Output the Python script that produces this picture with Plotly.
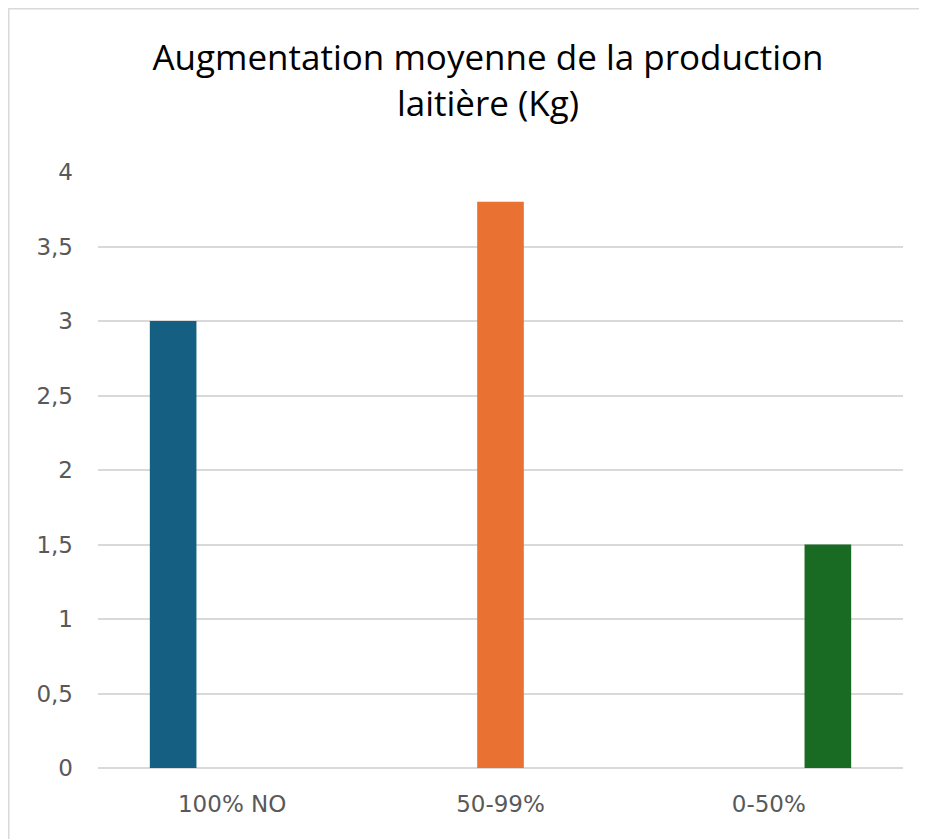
import plotly.graph_objects as go

categories = ["100% NO", "50-99%", "0-50%"]
values = [3.0, 3.8, 1.5]
colors = ["#156082", "#E97132", "#196B24"]
title_text = "Augmentation moyenne de la production<br>laitière (Kg)"
y_ticks = [0, 0.5, 1, 1.5, 2, 2.5, 3, 3.5, 4]

# page has an 8px body margin, so figure is slightly smaller and shifted
W, H = 919, 831
ML, MR, MT, MB = 90, 24, 164, 71
PW, PH = W - ML - MR, H - MT - MB

fig = go.Figure()
for i, cat in enumerate(categories):
    yv = [values[i] if j == i else None for j in range(len(categories))]
    fig.add_trace(go.Bar(x=categories, y=yv, name=cat, marker_color=colors[i],
                         marker_line_width=0, showlegend=False))

def px2x(px):
    return (px - ML) / PW

def px2y(py):
    return (H - MB - py) / PH

fig.update_layout(
    width=W, height=H,
    margin=dict(l=ML, r=MR, t=MT, b=MB),
    paper_bgcolor="white", plot_bgcolor="white",
    barmode="group", bargap=0.34, bargroupgap=0.21,
    separators=", ",
    title=dict(text=title_text, x=480 / W, xanchor="center", xref="container",
               y=1 - 62 / H, yanchor="top", yref="container",
               font=dict(family="Open Sans", size=35, color="#000000")),
    xaxis=dict(showgrid=False, showline=False, ticks="", zeroline=False,
               tickfont=dict(family="DejaVu Sans", size=23, color="#595959"),
               ticklabelstandoff=20),
    yaxis=dict(range=[0, 4], tickvals=y_ticks, showgrid=True, gridcolor="#D9D9D9",
               gridwidth=2, zeroline=True, zerolinecolor="#D9D9D9", zerolinewidth=2,
               showline=False, ticks="",
               tickfont=dict(family="DejaVu Sans", size=23, color="#595959"),
               ticklabelstandoff=24),
    shapes=[
        dict(type="line", xref="paper", yref="paper", x0=px2x(0), x1=px2x(W + 5),
             y0=px2y(0.5), y1=px2y(0.5), line=dict(color="#D9D9D9", width=2)),
        dict(type="line", xref="paper", yref="paper", x0=px2x(0.5), x1=px2x(0.5),
             y0=px2y(0), y1=px2y(H + 5), line=dict(color="#D9D9D9", width=2)),
    ],
)

fig.write_html("out.html")
